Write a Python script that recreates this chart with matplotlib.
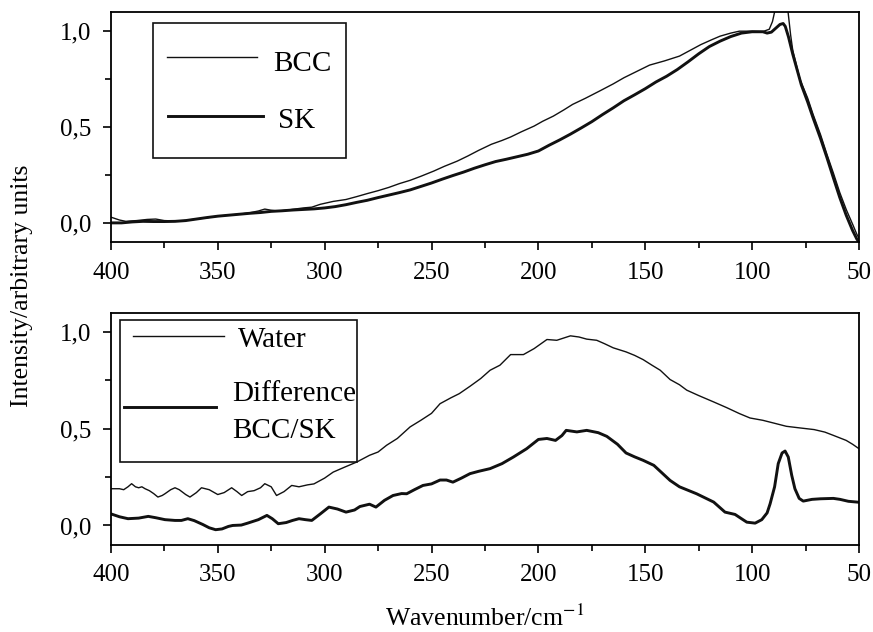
import numpy as np
import matplotlib
matplotlib.use("Agg")
import matplotlib.pyplot as plt
from matplotlib.patches import Rectangle

plt.rcParams['font.family'] = ['Liberation Serif', 'DejaVu Serif']
plt.rcParams['mathtext.fontset'] = 'stix'

# top panel: BCC and SK spectra
bcc_x = [400, 396, 393, 388, 383, 379, 375, 370, 366, 360, 355, 350, 345, 340, 335, 331, 328, 325, 322,
         318, 314, 310, 306, 302, 296, 290, 285, 280, 275, 270, 265, 260, 255, 249, 244, 238, 233, 228,
         222, 217, 213, 208, 202, 198, 193, 188, 184, 178, 171, 165, 160, 154, 148, 141, 134, 129, 124,
         119, 115, 110, 106, 100, 95, 92, 90.5, 89.5, 88, 86, 84, 83, 82, 81, 79, 77.6, 74, 71.5, 68,
         65, 62, 59, 56, 53, 51, 50]
bcc_y = [0.03, 0.015, 0.008, 0.012, 0.018, 0.02, 0.012, 0.01, 0.012, 0.02, 0.027, 0.035, 0.04, 0.045,
         0.053, 0.062, 0.072, 0.066, 0.062, 0.066, 0.072, 0.078, 0.082, 0.097, 0.112, 0.122, 0.137,
         0.153, 0.168, 0.185, 0.205, 0.222, 0.243, 0.27, 0.295, 0.322, 0.349, 0.378, 0.41, 0.43, 0.448,
         0.475, 0.505, 0.53, 0.557, 0.59, 0.618, 0.65, 0.69, 0.725, 0.757, 0.79, 0.823, 0.845, 0.87,
         0.9, 0.93, 0.955, 0.974, 0.99, 1.0, 1.0, 0.998, 1.01, 1.05, 1.1, 1.16, 1.2, 1.18, 1.08, 0.98,
         0.9, 0.81, 0.748, 0.65, 0.566, 0.46, 0.357, 0.26, 0.158, 0.07, -0.007, -0.06, -0.08]

sk_x = [400, 395, 390, 385, 380, 375, 370, 365, 360, 355, 350, 345, 340, 335, 330, 325, 320, 315, 310,
        305, 300, 295, 290, 285, 280, 275, 270, 265, 260, 255, 250, 245, 240, 235, 230, 225, 220, 215,
        210, 205, 200, 195, 190, 185, 180, 175, 170, 165, 160, 155, 150, 145, 140, 135, 130, 125, 120,
        115, 110, 105, 100, 95, 93, 91, 89, 87, 85.5, 84.5, 83, 81, 79, 77, 74, 71.5, 68, 65, 62, 59,
        56, 53, 51, 50]
sk_y = [0.0, 0.0, 0.005, 0.008, 0.007, 0.007, 0.008, 0.012, 0.02, 0.028, 0.035, 0.04, 0.045, 0.05,
        0.054, 0.06, 0.063, 0.067, 0.07, 0.073, 0.078, 0.085, 0.095, 0.107, 0.118, 0.132, 0.145, 0.158,
        0.172, 0.19, 0.208, 0.228, 0.247, 0.265, 0.285, 0.303, 0.32, 0.332, 0.345, 0.358, 0.375, 0.405,
        0.433, 0.463, 0.495, 0.528, 0.565, 0.6, 0.637, 0.668, 0.7, 0.735, 0.765, 0.8, 0.84, 0.882, 0.92,
        0.948, 0.972, 0.99, 0.997, 0.997, 0.99, 0.995, 1.015, 1.035, 1.04, 1.025, 0.97, 0.88, 0.8, 0.72,
        0.63, 0.548, 0.44, 0.34, 0.235, 0.132, 0.04, -0.04, -0.085, -0.1]

# bottom panel: water and difference spectra
water_x = [400, 396, 394, 392, 390.3, 388.5, 387, 385.5, 384, 382, 380, 378, 376, 374.7, 372, 370, 368,
           365, 363, 360, 357.6, 354, 350, 347, 343.5, 341, 338.8, 336, 333, 330, 328, 325, 322.5, 319,
           315.4, 312, 308, 305, 300, 296, 291, 285, 279, 275, 271, 266, 260, 255, 250, 246, 241, 237,
           232, 227, 222.6, 218, 213, 207, 202, 196, 191.4, 185, 181, 177.4, 172.7, 169, 165, 159, 155,
           151, 147, 143, 138.4, 134, 130.6, 125, 118, 112, 106, 101, 95, 90, 84, 78, 71, 66, 62, 56, 53, 50]
water_y = [0.19, 0.19, 0.185, 0.2, 0.216, 0.2, 0.195, 0.2, 0.19, 0.18, 0.165, 0.147, 0.155, 0.164, 0.185,
           0.195, 0.185, 0.16, 0.147, 0.17, 0.195, 0.185, 0.16, 0.17, 0.195, 0.175, 0.155, 0.175, 0.18,
           0.195, 0.216, 0.2, 0.155, 0.175, 0.207, 0.2, 0.21, 0.215, 0.245, 0.276, 0.3, 0.328, 0.363, 0.38,
           0.415, 0.45, 0.51, 0.544, 0.58, 0.63, 0.66, 0.682, 0.72, 0.76, 0.803, 0.829, 0.884, 0.884, 0.915,
           0.962, 0.958, 0.981, 0.975, 0.964, 0.958, 0.94, 0.919, 0.898, 0.88, 0.858, 0.83, 0.803, 0.755,
           0.728, 0.70, 0.672, 0.639, 0.61, 0.579, 0.556, 0.544, 0.53, 0.513, 0.505, 0.496, 0.483, 0.466,
           0.44, 0.42, 0.397]

diff_x = [400, 396, 392, 387, 382.5, 379, 374.7, 370, 367, 364, 361, 357, 354, 351, 348, 345, 343, 339,
          336, 331, 327, 324.5, 321.7, 318, 315, 312, 309, 306, 302, 298, 294, 290, 286, 283.5, 279, 276,
          272, 268, 264, 261.6, 258, 254, 250, 246, 243, 240, 236, 232, 228, 222.6, 217, 211.7, 205.5,
          200, 196, 192, 189, 187, 182, 177.4, 172, 168, 163, 159, 155, 151, 146, 142, 138.4, 134, 126,
          118, 112.7, 108, 105, 102.5, 98.6, 95.5, 93, 91.6, 89.5, 87.8, 86, 84.6, 83.1, 81.5, 80, 78,
          76.1, 72, 68, 62, 58.9, 55, 50]
diff_y = [0.06, 0.045, 0.035, 0.038, 0.047, 0.04, 0.03, 0.026, 0.026, 0.035, 0.025, 0.005, -0.012, -0.022,
          -0.018, -0.005, 0.0, 0.002, 0.012, 0.03, 0.052, 0.035, 0.009, 0.015, 0.026, 0.035, 0.03, 0.026,
          0.06, 0.095, 0.085, 0.069, 0.08, 0.098, 0.11, 0.095, 0.13, 0.155, 0.165, 0.164, 0.185, 0.207,
          0.215, 0.235, 0.235, 0.224, 0.245, 0.268, 0.28, 0.294, 0.32, 0.354, 0.397, 0.445, 0.45, 0.44,
          0.465, 0.492, 0.484, 0.492, 0.48, 0.461, 0.42, 0.375, 0.355, 0.337, 0.311, 0.27, 0.233, 0.2,
          0.164, 0.121, 0.069, 0.057, 0.035, 0.017, 0.012, 0.03, 0.065, 0.112, 0.2, 0.32, 0.375, 0.385,
          0.354, 0.26, 0.19, 0.14, 0.126, 0.135, 0.138, 0.14, 0.135, 0.125, 0.12]

x_ticks = [400, 350, 300, 250, 200, 150, 100, 50]
y_ticks = [0.0, 0.5, 1.0]
y_labels = ['0,0', '0,5', '1,0']

INK = '#111111'
THIN, THICK = 1.0, 2.1

fig = plt.figure(figsize=(8.73, 6.32), dpi=100)
ax1 = fig.add_axes([0.127, 0.617, 0.857, 0.364])
ax2 = fig.add_axes([0.127, 0.138, 0.857, 0.367])

ax1.plot(bcc_x, bcc_y, color=INK, lw=THIN)
ax1.plot(sk_x, sk_y, color=INK, lw=THICK)
ax2.plot(water_x, water_y, color=INK, lw=THIN)
ax2.plot(diff_x, diff_y, color=INK, lw=THICK)

for ax in (ax1, ax2):
    ax.set_xlim(400, 50)
    ax.set_ylim(-0.1, 1.1)
    ax.set_xticks(x_ticks)
    ax.set_xticks([375, 325, 275, 225, 175, 125, 75], minor=True)
    ax.set_yticks(y_ticks)
    ax.set_yticklabels(y_labels)
    ax.set_yticks([0.25, 0.75], minor=True)
    ax.tick_params(which='major', length=6, width=1.2, labelsize=18, pad=8, direction='out')
    ax.tick_params(which='minor', length=4, width=1.2, direction='out')
    for s in ax.spines.values():
        s.set_linewidth(1.3)


def key(ax, box, entries):
    # hand-placed legend box like the original figure
    x0, y0, x1, y1 = box
    ax.add_patch(Rectangle((x0, y0), x1 - x0, y1 - y0, transform=ax.transAxes,
                           fill=False, edgecolor=INK, lw=1.2, zorder=5))
    for (hx0, hx1, hy, lw), (tx, texts) in entries:
        ax.plot([hx0, hx1], [hy, hy], transform=ax.transAxes, color=INK, lw=lw, zorder=6)
        for ty, s in texts:
            ax.text(tx, ty, s, transform=ax.transAxes, fontsize=21, ha='left', va='baseline', zorder=6)


key(ax1, (0.056, 0.365, 0.314, 0.952),
    [((0.075, 0.195, 0.804, THIN), (0.217, [(0.743, 'BCC')])),
     ((0.076, 0.203, 0.548, THICK), (0.223, [(0.496, 'SK')]))])
key(ax2, (0.012, 0.358, 0.329, 0.970),
    [((0.029, 0.151, 0.901, THIN), (0.170, [(0.853, 'Water')])),
     ((0.017, 0.140, 0.595, THICK), (0.162, [(0.618, 'Difference'), (0.460, 'BCC/SK')]))])

fig.text(0.025, 0.547, 'Intensity/arbitrary units', rotation=90, ha='center', va='center', fontsize=18.5)
fig.text(0.555, 0.022, 'Wavenumber/cm$^{-1}$', ha='center', va='center', fontsize=18.5)

fig.savefig('out.png', dpi=100)
